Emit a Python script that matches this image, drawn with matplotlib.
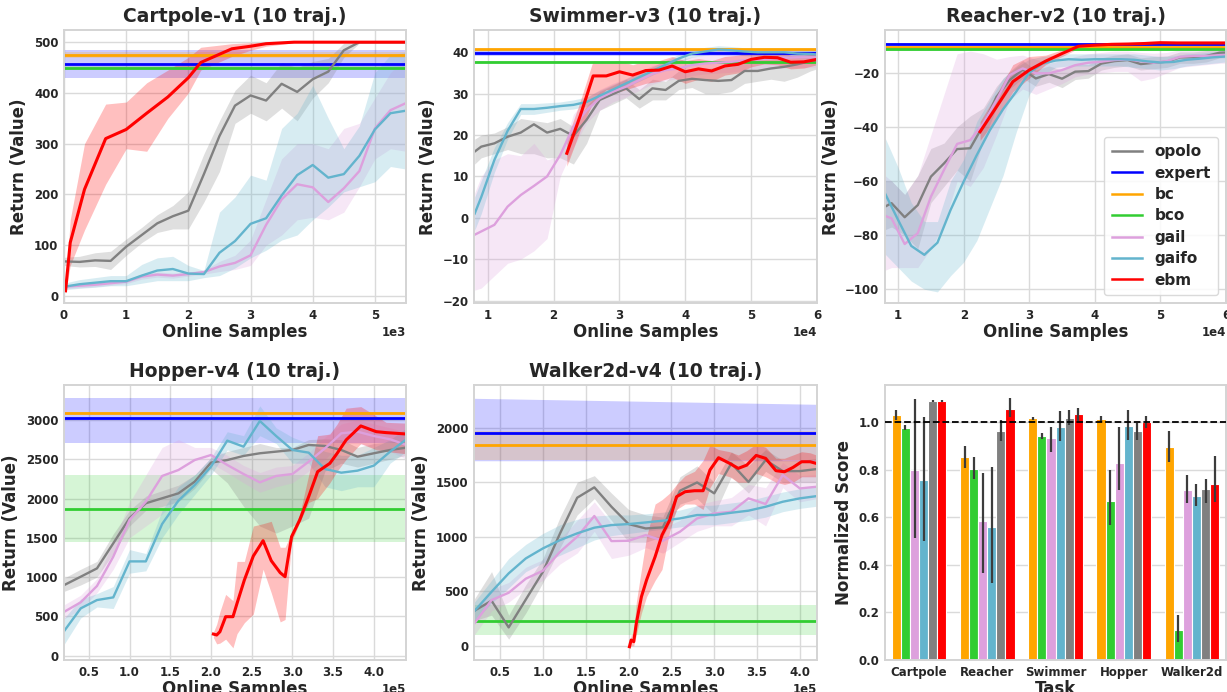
import matplotlib
matplotlib.use('Agg')
import matplotlib.pyplot as plt
from matplotlib.ticker import MultipleLocator
import numpy as np

# ---------------- colours / labels ----------------
C_OPOLO, C_EXPERT, C_BC, C_BCO = 'gray', 'blue', 'orange', 'limegreen'
C_GAIL, C_GAIFO, C_EBM = 'plum', '#63b4cd', 'red'

# ---------------- Cartpole ----------------
cp_x = [0, 250, 500, 750, 1000, 1250, 1500, 1750, 2000, 2250, 2500, 2750, 3000,
        3250, 3500, 3750, 4000, 4250, 4500, 4750, 5000, 5250, 5500]
cp_opolo = [68, 67, 70, 69, 97, 120, 143, 157, 168, 240, 315, 375, 395, 385, 418, 402, 427, 442, 484, 500, 500, 500, 500]
cp_opolo_lo = [60, 57, 58, 52, 80, 105, 125, 132, 132, 185, 245, 340, 360, 345, 370, 345, 390, 420, 470, 498, 499, 499, 499]
cp_opolo_hi = [76, 78, 85, 88, 112, 135, 160, 178, 205, 280, 345, 405, 435, 420, 460, 450, 462, 468, 498, 500, 500, 500, 500]
cp_gaifo = [18, 23, 26, 29, 29, 40, 50, 53, 44, 43, 85, 108, 142, 153, 198, 238, 258, 233, 240, 276, 328, 360, 365]
cp_gaifo_lo = [12, 15, 17, 20, 20, 25, 30, 30, 30, 36, 40, 55, 75, 90, 110, 120, 150, 175, 205, 215, 225, 255, 250]
cp_gaifo_hi = [25, 32, 36, 40, 40, 62, 75, 78, 60, 50, 165, 195, 238, 228, 330, 360, 415, 350, 290, 335, 440, 475, 480]
cp_gail = [18, 20, 22, 25, 28, 38, 42, 40, 43, 47, 58, 65, 80, 140, 190, 220, 214, 185, 212, 246, 330, 366, 380]
cp_gail_lo = [14, 16, 18, 21, 24, 33, 37, 35, 39, 43, 48, 52, 60, 100, 120, 150, 155, 150, 165, 215, 270, 290, 285]
cp_gail_hi = [22, 24, 26, 29, 32, 43, 47, 45, 47, 51, 68, 80, 110, 190, 270, 300, 300, 290, 330, 340, 390, 440, 470]
cp_ebm_x = [25, 100, 330, 670, 1000, 1330, 1670, 2000, 2200, 2700, 3000, 3250, 3700, 4000, 4500, 5000, 5500]
cp_ebm = [10, 105, 210, 310, 328, 360, 392, 430, 460, 487, 492, 497, 500, 500, 500, 500, 500]
cp_ebm_lo = [5, 60, 130, 220, 290, 285, 350, 400, 445, 472, 484, 492, 499, 500, 500, 500, 500]
cp_ebm_hi = [15, 150, 300, 378, 382, 420, 445, 470, 490, 497, 499, 500, 500, 500, 500, 500, 500]
cp_expert, cp_expert_lo, cp_expert_hi = 457, 430, 484
cp_bc, cp_bc_lo, cp_bc_hi = 475, 469, 481
cp_bco, cp_bco_lo, cp_bco_hi = 449, 445, 453

# ---------------- Swimmer ----------------
sw_x = [8000, 9000, 11000, 13000, 15000, 17000, 19000, 21000, 23000, 25000, 27000, 29000, 31000, 33000,
        35000, 37000, 39000, 41000, 43000, 45000, 47000, 49000, 51000, 53000, 55000, 57000, 59000, 60000]
sw_opolo = [16, 17.2, 18, 19.6, 20.6, 22.6, 20.6, 21.5, 19.8, 23.7, 28.5, 29.9, 31.3, 28.7, 31.3, 30.9, 33.1, 33.6,
            33.3, 33.1, 33.3, 35.5, 35.5, 36.1, 36.5, 37.1, 37.9, 38.1]
sw_opolo_lo = [13, 14.5, 15.5, 16.5, 15.5, 15.5, 14.5, 14.5, 13, 18, 26, 27.5, 29, 26.5, 28.5, 28.5, 31, 31.5,
               30, 30, 30.5, 32.5, 33, 33.5, 33, 34, 35.5, 36]
sw_opolo_hi = [19, 20, 20.5, 22, 24, 23.5, 23, 24, 22, 27, 30.5, 32, 33.5, 31, 33.5, 33, 35.5, 36,
               36, 36.5, 36.5, 38, 38.5, 38.5, 39, 39.5, 40, 40.2]
sw_gaifo = [1, 5, 14, 21, 26.3, 26.3, 26.6, 27, 27.3, 28, 29.5, 31, 32.5, 34, 35.5, 37, 38.5, 39.7, 40.2, 40.7,
            40.5, 40.2, 40, 40, 40, 39.7, 39.6, 39.5]
sw_gaifo_lo = [-3, 1, 11, 19, 25, 25, 25.5, 26, 26.3, 27, 28.5, 30, 31.5, 33, 34.5, 36, 37.5, 38.8, 39.3, 39.8,
               39.5, 39.2, 39, 39, 39, 38.7, 38.5, 38.4]
sw_gaifo_hi = [5, 9, 17, 23, 27.6, 27.6, 27.8, 28, 28.5, 29.2, 30.8, 32.2, 33.6, 35, 36.5, 38, 39.5, 40.7, 41.2,
               41.6, 41.4, 41.1, 41, 41, 41, 40.8, 40.7, 40.7]
sw_gail = [-4.1, -3.3, -1.7, 2.7, 5.5, 7.7, 10, 15.2, 22, 26, 28.9, 30.5, 31.7, 33.3, 34.8, 35.7, 36.1, 36.9,
           37.3, 37.5, 37.7, 38.1, 38.3, 38.5, 38.7, 38.8, 38.8, 38.8]
sw_gail_lo = [-17.5, -17, -14, -11, -10, -8, -5, 10, 17, 23, 26, 28, 29.2, 30.8, 32.3, 33.2, 33.6, 34.4,
              34.8, 35, 35.2, 35.6, 35.8, 36, 36.2, 36.3, 36.3, 36.3]
sw_gail_hi = [6, 10, 14, 15.5, 15, 18, 14, 15, 25, 29, 31, 32.5, 33.7, 35.3, 36.8, 37.7, 38.1, 38.9,
              39.3, 39.5, 39.7, 40.1, 40.3, 40.5, 40.7, 40.8, 40.8, 40.8]
sw_ebm_x = [22000, 24000, 26000, 28000, 30000, 32000, 34000, 36000, 38000, 40000, 42000, 44000, 46000,
            48000, 50000, 52000, 54000, 56000, 58000, 60000]
sw_ebm = [15.6, 24.5, 34.3, 34.3, 35.3, 34.5, 35.6, 35.7, 36.7, 35.3, 36, 35.5, 36.7, 37.1, 38.3, 38.8, 38.7,
          37.6, 37.7, 38.3]
sw_ebm_lo = [12.5, 21, 28, 31, 30.5, 31.5, 32.5, 33, 34, 32.5, 33.5, 33, 34.5, 35, 36.5, 37.2, 37, 36, 36.2, 37]
sw_ebm_hi = [19, 28, 38, 37.5, 38, 37, 38, 38, 39, 38, 38.5, 38, 39, 39.3, 40, 40.3, 40.2, 39.3, 39.3, 39.6]
sw_expert, sw_expert_lo, sw_expert_hi = 39.8, 39.0, 40.6
sw_bc, sw_bc_lo, sw_bc_hi = 40.7, 40.5, 40.9
sw_bco, sw_bco_lo, sw_bco_hi = 37.7, 37.5, 37.9

# ---------------- Reacher ----------------
re_x = [8000, 9000, 11000, 13000, 15000, 17000, 19000, 21000, 23000, 25000, 27000, 29000, 31000, 33000,
        35000, 37000, 39000, 41000, 43000, 45000, 47000, 49000, 51000, 53000, 55000, 57000, 59000, 60000]
re_opolo = [-69.5, -68.2, -73.4, -68.9, -58.4, -53.5, -48.2, -47.9, -39.3, -28.9, -22.7, -18.8, -22.1, -20.5,
            -22.2, -19.6, -19.4, -16.6, -15.7, -15.3, -16.8, -16.3, -15.9, -14.3, -14.3, -13.8, -12.6, -12.5]
re_opolo_lo = [-78, -77, -80, -85, -68, -62, -56, -60, -45, -33, -26, -22, -25, -23.5,
               -25.5, -22.5, -22, -19, -18, -17.5, -19, -18.5, -18, -16.5, -16.5, -16, -14.5, -14.5]
re_opolo_hi = [-60, -60, -65, -58, -48, -46, -40, -36, -33, -25, -19.5, -15.5, -19, -17.5,
               -19, -17, -17, -14.5, -13.5, -13, -14.5, -14, -13.8, -12.3, -12.3, -11.8, -10.8, -10.5]
re_gail = [-72.9, -73.8, -83.3, -79.3, -65.8, -55.9, -46.3, -44.9, -38.7, -30.1, -20.9, -18.4, -20.2, -20.2,
           -19, -17.2, -16.3, -15.9, -15.3, -15.1, -15.7, -16.3, -15.7, -14.1, -13.8, -13.8, -13.5, -13.5]
re_gail_lo = [-93, -92, -92, -92, -85, -76, -60, -62, -55, -43, -30, -26, -28, -26,
              -24, -21.5, -20.5, -20, -19.5, -19.5, -23, -22, -20, -18, -17.5, -17, -16.5, -16.5]
re_gail_hi = [-58, -60, -65, -58, -43, -28, -13, -12, -13, -15, -14, -13.5, -15, -16.5,
              -15.5, -14, -13, -12.5, -12, -12, -12.5, -12.8, -12.5, -11.5, -11.3, -11.3, -11, -11]
re_gaifo_x = [8000, 10000, 12000, 14000, 16000, 18000, 20000, 22000, 24000, 26000, 28000, 30000, 32000, 34000,
              36000, 38000, 40000, 42000, 44000, 46000, 48000, 50000, 52000, 54000, 56000, 58000, 60000]
re_gaifo = [-64.6, -74.4, -84, -87.3, -82.8, -70.7, -60.2, -50.4, -41.2, -33.5, -27, -20, -16.6, -15.5,
            -15, -15.2, -15, -15, -15, -15.2, -15.8, -16.2, -16, -15.2, -14.8, -14.3, -14]
re_gaifo_lo = [-87, -92, -97, -100, -101, -95, -90, -82, -70, -58, -42, -28, -21, -18,
               -17.5, -17.5, -17.5, -17.5, -17.5, -18, -18.5, -19, -18.5, -17.5, -17, -16.5, -16]
re_gaifo_hi = [-44, -55, -68, -75, -75, -60, -52, -38, -30, -22, -18, -15, -14, -13.5,
               -13, -13, -13, -13, -13, -13, -13.5, -14, -13.8, -13, -12.8, -12.3, -12]
re_ebm_x = [22500, 25000, 27500, 30000, 32500, 35000, 37500, 40000, 42500, 45000, 47500, 50000,
            52500, 55000, 57500, 60000]
re_ebm = [-41.8, -32.6, -23.3, -19, -15.7, -12.9, -10.2, -9.8, -9.5, -9.4, -9.2, -8.9, -9.0, -9.0, -9.0, -9.0]
re_ebm_lo = [-45, -37, -27, -22, -17, -14, -11, -10.5, -10.2, -10.1, -9.9, -9.6, -9.7, -9.7, -9.7, -9.7]
re_ebm_hi = [-38, -28, -17, -14, -13.5, -11.5, -9.4, -9.1, -8.8, -8.7, -8.5, -8.2, -8.3, -8.3, -8.3, -8.3]
re_expert, re_expert_lo, re_expert_hi = -9.2, -9.5, -8.9
re_bc, re_bc_lo, re_bc_hi = -10.5, -10.9, -10.1
re_bco, re_bco_lo, re_bco_hi = -11.4, -11.8, -11.0

# ---------------- Hopper ----------------
ho_x = [20000, 40000, 60000, 80000, 100000, 120000, 140000, 160000, 180000, 200000, 220000, 240000,
        260000, 280000, 300000, 320000, 340000, 360000, 380000, 400000, 420000, 440000]
ho_opolo = [900, 1005, 1111, 1430, 1750, 1940, 2003, 2066, 2215, 2457, 2490, 2542, 2576, 2597, 2618, 2682,
            2669, 2618, 2533, 2576, 2618, 2648]
ho_opolo_lo = [820, 900, 1000, 1300, 1650, 1850, 1900, 1960, 2130, 2380, 2200, 1900, 1650, 1560, 1650, 1750,
               2350, 2450, 2400, 2450, 2500, 2550]
ho_opolo_hi = [990, 1100, 1200, 1550, 1850, 2030, 2100, 2170, 2300, 2520, 2600, 2650, 2700, 2650, 2650, 2750,
               2760, 2750, 2650, 2700, 2720, 2750]
ho_gail = [560, 679, 887, 1260, 1727, 1960, 2287, 2363, 2490, 2554, 2427, 2312, 2206, 2287, 2312, 2469,
           2639, 2830, 2851, 2796, 2754, 2682]
ho_gail_lo = [470, 590, 800, 1100, 1500, 1650, 1800, 2000, 2300, 2450, 2330, 2200, 2080, 2150, 2200, 2350,
              2500, 2700, 2700, 2650, 2600, 2500]
ho_gail_hi = [650, 770, 980, 1450, 1950, 2300, 2650, 2750, 2650, 2650, 2550, 2420, 2330, 2400, 2420, 2580,
              2780, 2950, 3000, 2950, 2900, 2850]
ho_gaifo = [318, 602, 708, 742, 1200, 1200, 1676, 1973, 2172, 2406, 2737, 2660, 2987, 2796, 2618, 2584,
            2376, 2329, 2355, 2419, 2597, 2754]
ho_gaifo_lo = [150, 480, 620, 600, 1050, 1080, 1500, 1800, 2050, 2300, 2620, 2550, 2800, 2700, 2450, 2450,
               2150, 2100, 2150, 2150, 2450, 2600]
ho_gaifo_hi = [480, 720, 790, 880, 1350, 1300, 1850, 2150, 2300, 2520, 2850, 2800, 3180, 2900, 2780, 2700,
               2600, 2550, 2550, 2650, 2750, 2900]
ho_ebm_x = [203000, 207000, 211000, 218000, 227000, 232000, 241000, 252000, 264000, 274000, 285000, 291000,
            299000, 309000, 320000, 331000, 346000, 355000, 366000, 384000, 403000, 415000, 439000]
ho_ebm = [275, 263, 305, 496, 496, 666, 963, 1268, 1464, 1209, 1056, 1005, 1515, 1727, 2024, 2342, 2448,
          2576, 2746, 2924, 2851, 2839, 2822]
ho_ebm_lo = [230, 150, 160, 210, 100, 280, 420, 530, 1100, 800, 430, 460, 1450, 1700, 1950, 2000, 2200,
             2350, 2500, 2700, 2620, 2600, 2570]
ho_ebm_hi = [300, 400, 560, 780, 700, 1200, 1200, 1650, 1680, 1710, 1380, 1380, 1560, 1800, 2300, 2800,
             2820, 2950, 3150, 3170, 3050, 2970, 2960]
ho_expert, ho_expert_lo, ho_expert_hi = 3030, 2710, 3280
ho_bc, ho_bc_lo, ho_bc_hi = 3085, 3070, 3100
ho_bco, ho_bco_lo, ho_bco_hi = 1870, 1450, 2300

# ---------------- Walker2d ----------------
wa_x = [20000, 40000, 60000, 80000, 100000, 120000, 140000, 160000, 180000, 200000, 220000, 240000,
        260000, 280000, 300000, 320000, 340000, 360000, 380000, 400000, 420000]
wa_opolo = [321, 413, 168, 424, 679, 1031, 1358, 1453, 1275, 1116, 1076, 1086, 1422, 1498, 1398, 1673,
            1502, 1703, 1602, 1602, 1621]
wa_opolo_lo = [230, 280, 60, 300, 580, 900, 1200, 1350, 1150, 950, 950, 1000, 1300, 1350, 1200, 1550,
               1400, 1600, 1500, 1500, 1500]
wa_opolo_hi = [430, 680, 280, 560, 800, 1180, 1500, 1560, 1400, 1250, 1200, 1180, 1550, 1650, 1500, 1780,
               1650, 1800, 1700, 1700, 1720]
wa_gail = [205, 419, 486, 615, 688, 862, 1000, 1190, 960, 963, 1015, 963, 1046, 1168, 1214, 1229, 1352,
           1300, 1566, 1443, 1459]
wa_gail_lo = [100, 320, 400, 520, 600, 750, 850, 1050, 800, 830, 900, 850, 950, 1050, 1100, 1100, 1200,
              1100, 1450, 1320, 1350]
wa_gail_hi = [320, 520, 580, 720, 790, 980, 1150, 1320, 1120, 1100, 1130, 1080, 1150, 1290, 1330, 1360,
              1480, 1450, 1680, 1560, 1570]
wa_gaifo = [318, 495, 664, 801, 893, 969, 1031, 1083, 1107, 1116, 1131, 1147, 1168, 1199, 1199, 1220,
            1239, 1275, 1321, 1352, 1373]
wa_gaifo_lo = [230, 390, 530, 680, 760, 830, 900, 970, 1010, 1030, 1050, 1070, 1090, 1110, 1110, 1130,
               1150, 1180, 1230, 1260, 1280]
wa_gaifo_hi = [400, 600, 800, 930, 1030, 1110, 1160, 1190, 1200, 1200, 1210, 1225, 1245, 1285, 1290, 1310,
               1330, 1370, 1410, 1440, 1460]
wa_ebm_x = [201000, 203000, 206000, 209000, 215000, 221000, 231000, 239000, 248000, 256000, 266000, 277000,
            287000, 295000, 305000, 318000, 328000, 338000, 349000, 360000, 372000, 382000, 392000, 402000,
            412000, 419000]
wa_ebm = [-9, 52, 37, 205, 450, 603, 817, 1015, 1153, 1367, 1413, 1422, 1422, 1612, 1725, 1673, 1627, 1657,
          1746, 1719, 1606, 1596, 1636, 1688, 1688, 1673]
wa_ebm_lo = [-30, 0, 0, 100, 300, 450, 600, 700, 1050, 1250, 1300, 1300, 1250, 1450, 1580, 1550, 1500, 1500,
             1580, 1550, 1500, 1480, 1500, 1550, 1550, 1550]
wa_ebm_hi = [10, 100, 120, 400, 700, 1000, 1300, 1340, 1400, 1480, 1560, 1600, 1700, 1840, 1800, 1780, 1750,
             1790, 1850, 1820, 1720, 1720, 1750, 1780, 1770, 1750]
wa_expert, wa_expert_lo, wa_expert_hi = 1950, [1697, 1697], [2270, 2215]
wa_bc, wa_bc_lo, wa_bc_hi = 1840, 1705, 1970
wa_bco, wa_bco_lo, wa_bco_hi = 225, 100, 370

# ---------------- Bar chart ----------------
tasks = ['Cartpole', 'Reacher', 'Swimmer', 'Hopper', 'Walker2d']
bar_methods = ['bc', 'bco', 'gail', 'gaifo', 'opolo', 'ebm']
bar_colors = [C_BC, C_BCO, C_GAIL, C_GAIFO, C_OPOLO, C_EBM]
score_bc = [1.028, 0.852, 1.017, 1.012, 0.893]
score_bc_lo = [1.01, 0.805, 1.010, 1.0, 0.83]
score_bc_hi = [1.05, 0.90, 1.022, 1.025, 0.96]
score_bco = [0.975, 0.803, 0.942, 0.668, 0.128]
score_bco_lo = [0.965, 0.76, 0.93, 0.565, 0.075]
score_bco_hi = [0.985, 0.852, 0.955, 0.80, 0.19]
score_gail = [0.798, 0.585, 0.934, 0.828, 0.714]
score_gail_lo = [0.514, 0.365, 0.875, 0.715, 0.66]
score_gail_hi = [1.095, 0.785, 0.978, 0.98, 0.775]
score_gaifo = [0.756, 0.558, 0.978, 0.983, 0.688]
score_gaifo_lo = [0.50, 0.325, 0.92, 0.925, 0.645]
score_gaifo_hi = [1.02, 0.81, 1.045, 1.048, 0.74]
score_opolo = [1.088, 0.962, 1.017, 0.962, 0.719]
score_opolo_lo = [1.085, 0.92, 0.985, 0.925, 0.66]
score_opolo_hi = [1.092, 1.01, 1.05, 0.995, 0.76]
score_ebm = [1.088, 1.055, 1.035, 1.0, 0.741]
score_ebm_lo = [1.085, 1.02, 1.005, 0.975, 0.665]
score_ebm_hi = [1.092, 1.10, 1.06, 1.025, 0.855]

# ---------------- style ----------------
TXT = '#262626'
plt.rcParams.update({
    'font.family': ['DejaVu Sans'],
    'font.weight': 'bold',
    'axes.labelweight': 'bold',
    'axes.titleweight': 'bold',
    'text.color': TXT,
    'axes.labelcolor': TXT,
    'xtick.color': TXT,
    'ytick.color': TXT,
    'axes.edgecolor': '#d4d4d4',
    'axes.linewidth': 1.4,
    'grid.color': '#dadada',
    'grid.linewidth': 1.0,
    'axes.axisbelow': True,
})

fig = plt.figure(figsize=(12.27, 6.92), dpi=100)
W, H = 1227.0, 692.0


def make_ax(l, t, r, b):
    return fig.add_axes([l / W, 1 - b / H, (r - l) / W, (b - t) / H])


def style_ax(ax, title, xlabel, ylabel):
    ax.set_title(title, fontsize=13.5, pad=6)
    ax.set_xlabel(xlabel, fontsize=12, labelpad=1)
    ax.set_ylabel(ylabel, fontsize=12, labelpad=4)
    ax.tick_params(length=0, labelsize=8.5, pad=4)
    for lab in ax.get_xticklabels() + ax.get_yticklabels():
        lab.set_fontweight('bold')
    ax.grid(True)


def hconst(ax, xr, mean, lo, hi, color):
    ax.fill_between(xr, lo, hi, color=color, alpha=0.2, lw=0)
    ax.plot(xr, [mean, mean], color=color, lw=2.0)


def series(ax, x, y, lo, hi, color, lw=1.7):
    ax.fill_between(x, lo, hi, color=color, alpha=0.25, lw=0)
    return ax.plot(x, y, color=color, lw=lw)[0]


def line_panel(ax, xr, consts, runs, title, xstep, ystep, ylim):
    for (m, lo, hi, c) in consts:
        hconst(ax, xr, m, lo, hi, c)
    handles = {}
    for (name, x, y, lo, hi, c, lw) in runs:
        handles[name] = series(ax, x, y, lo, hi, c, lw)
    ax.set_xlim(*xr)
    ax.set_ylim(*ylim)
    ax.xaxis.set_major_locator(MultipleLocator(xstep))
    ax.yaxis.set_major_locator(MultipleLocator(ystep))
    ax.ticklabel_format(style='sci', axis='x', scilimits=(0, 0))
    ax.xaxis.get_offset_text().set_fontsize(8.5)
    ax.xaxis.get_offset_text().set_fontweight('bold')
    style_ax(ax, title, 'Online Samples', 'Return (Value)')
    return handles


# Cartpole
ax1 = make_ax(64, 30, 406, 303)
line_panel(ax1, (0, 5500),
           [(cp_expert, cp_expert_lo, cp_expert_hi, C_EXPERT),
            (cp_bc, cp_bc_lo, cp_bc_hi, C_BC),
            (cp_bco, cp_bco_lo, cp_bco_hi, C_BCO)],
           [('opolo', cp_x, cp_opolo, cp_opolo_lo, cp_opolo_hi, C_OPOLO, 1.7),
            ('gail', cp_x, cp_gail, cp_gail_lo, cp_gail_hi, C_GAIL, 1.7),
            ('gaifo', cp_x, cp_gaifo, cp_gaifo_lo, cp_gaifo_hi, C_GAIFO, 1.7),
            ('ebm', cp_ebm_x, cp_ebm, cp_ebm_lo, cp_ebm_hi, C_EBM, 2.2)],
           'Cartpole-v1 (10 traj.)', 1000, 100, (-14, 524))

# Swimmer
ax2 = make_ax(474, 30, 817, 303)
line_panel(ax2, (7900, 60000),
           [(sw_expert, sw_expert_lo, sw_expert_hi, C_EXPERT),
            (sw_bc, sw_bc_lo, sw_bc_hi, C_BC),
            (sw_bco, sw_bco_lo, sw_bco_hi, C_BCO)],
           [('opolo', sw_x, sw_opolo, sw_opolo_lo, sw_opolo_hi, C_OPOLO, 1.7),
            ('gail', sw_x, sw_gail, sw_gail_lo, sw_gail_hi, C_GAIL, 1.7),
            ('gaifo', sw_x, sw_gaifo, sw_gaifo_lo, sw_gaifo_hi, C_GAIFO, 1.7),
            ('ebm', sw_ebm_x, sw_ebm, sw_ebm_lo, sw_ebm_hi, C_EBM, 2.2)],
           'Swimmer-v3 (10 traj.)', 10000, 10, (-20.6, 45.4))

# Reacher
ax3 = make_ax(885, 30, 1226, 303)
line_panel(ax3, (8000, 60000),
           [(re_expert, re_expert_lo, re_expert_hi, C_EXPERT),
            (re_bc, re_bc_lo, re_bc_hi, C_BC),
            (re_bco, re_bco_lo, re_bco_hi, C_BCO)],
           [('opolo', re_x, re_opolo, re_opolo_lo, re_opolo_hi, C_OPOLO, 1.7),
            ('gail', re_x, re_gail, re_gail_lo, re_gail_hi, C_GAIL, 1.7),
            ('gaifo', re_gaifo_x, re_gaifo, re_gaifo_lo, re_gaifo_hi, C_GAIFO, 1.7),
            ('ebm', re_ebm_x, re_ebm, re_ebm_lo, re_ebm_hi, C_EBM, 2.2)],
           'Reacher-v2 (10 traj.)', 10000, 20, (-105.1, -4.2))
leg_names = ['opolo', 'expert', 'bc', 'bco', 'gail', 'gaifo', 'ebm']
leg_colors = [C_OPOLO, C_EXPERT, C_BC, C_BCO, C_GAIL, C_GAIFO, C_EBM]
leg_handles = [plt.Line2D([], [], color=c, lw=1.8) for c in leg_colors]
leg = ax3.legend(leg_handles, leg_names, loc='lower right', fontsize=11, labelspacing=0.42,
                 handlelength=2.0, handletextpad=0.8, borderpad=0.5, framealpha=0.85)
leg.get_frame().set_edgecolor('#d4d4d4')
for t in leg.get_texts():
    t.set_fontweight('bold')

# Hopper
ax4 = make_ax(64, 385, 406, 660)
line_panel(ax4, (19500, 439500),
           [(ho_expert, ho_expert_lo, ho_expert_hi, C_EXPERT),
            (ho_bc, ho_bc_lo, ho_bc_hi, C_BC),
            (ho_bco, ho_bco_lo, ho_bco_hi, C_BCO)],
           [('opolo', ho_x, ho_opolo, ho_opolo_lo, ho_opolo_hi, C_OPOLO, 1.7),
            ('gail', ho_x, ho_gail, ho_gail_lo, ho_gail_hi, C_GAIL, 1.7),
            ('gaifo', ho_x, ho_gaifo, ho_gaifo_lo, ho_gaifo_hi, C_GAIFO, 1.7),
            ('ebm', ho_ebm_x, ho_ebm, ho_ebm_lo, ho_ebm_hi, C_EBM, 2.2)],
           'Hopper-v4 (10 traj.)', 50000, 500, (-55, 3445))

# Walker2d
ax5 = make_ax(474, 385, 817, 660)
line_panel(ax5, (19500, 420000),
           [(wa_expert, wa_expert_lo, wa_expert_hi, C_EXPERT),
            (wa_bc, wa_bc_lo, wa_bc_hi, C_BC),
            (wa_bco, wa_bco_lo, wa_bco_hi, C_BCO)],
           [('opolo', wa_x, wa_opolo, wa_opolo_lo, wa_opolo_hi, C_OPOLO, 1.7),
            ('gail', wa_x, wa_gail, wa_gail_lo, wa_gail_hi, C_GAIL, 1.7),
            ('gaifo', wa_x, wa_gaifo, wa_gaifo_lo, wa_gaifo_hi, C_GAIFO, 1.7),
            ('ebm', wa_ebm_x, wa_ebm, wa_ebm_lo, wa_ebm_hi, C_EBM, 2.2)],
           'Walker2d-v4 (10 traj.)', 50000, 500, (-131, 2392))

# Bars
ax6 = make_ax(885, 385, 1226, 660)
scores = [score_bc, score_bco, score_gail, score_gaifo, score_opolo, score_ebm]
scores_lo = [score_bc_lo, score_bco_lo, score_gail_lo, score_gaifo_lo, score_opolo_lo, score_ebm_lo]
scores_hi = [score_bc_hi, score_bco_hi, score_gail_hi, score_gaifo_hi, score_opolo_hi, score_ebm_hi]
n = len(bar_methods)
bw = 0.8 / n
xc = np.arange(len(tasks))
for i in range(n):
    xs = xc - 0.4 + bw * (i + 0.5)
    ax6.bar(xs, scores[i], width=bw, color=bar_colors[i], edgecolor='white', linewidth=0.8, zorder=2)
    ax6.vlines(xs, scores_lo[i], scores_hi[i], color='#3c3c3c', lw=1.6, zorder=3)
ax6.axhline(1.0, color='black', ls='--', lw=1.3, zorder=4)
ax6.set_xlim(-0.5, len(tasks) - 0.5)
ax6.set_ylim(0, 1.155)
ax6.set_xticks(xc)
ax6.set_xticklabels(tasks)
ax6.yaxis.set_major_locator(MultipleLocator(0.2))
ax6.set_xlabel('Task', fontsize=12, labelpad=1)
ax6.set_ylabel('Normalized Score', fontsize=12, labelpad=4)
ax6.tick_params(length=0, labelsize=8.5, pad=4)
for lab in ax6.get_xticklabels() + ax6.get_yticklabels():
    lab.set_fontweight('bold')
ax6.grid(True, axis='y')
ax6.grid(False, axis='x')

fig.savefig('out.png', dpi=100)
